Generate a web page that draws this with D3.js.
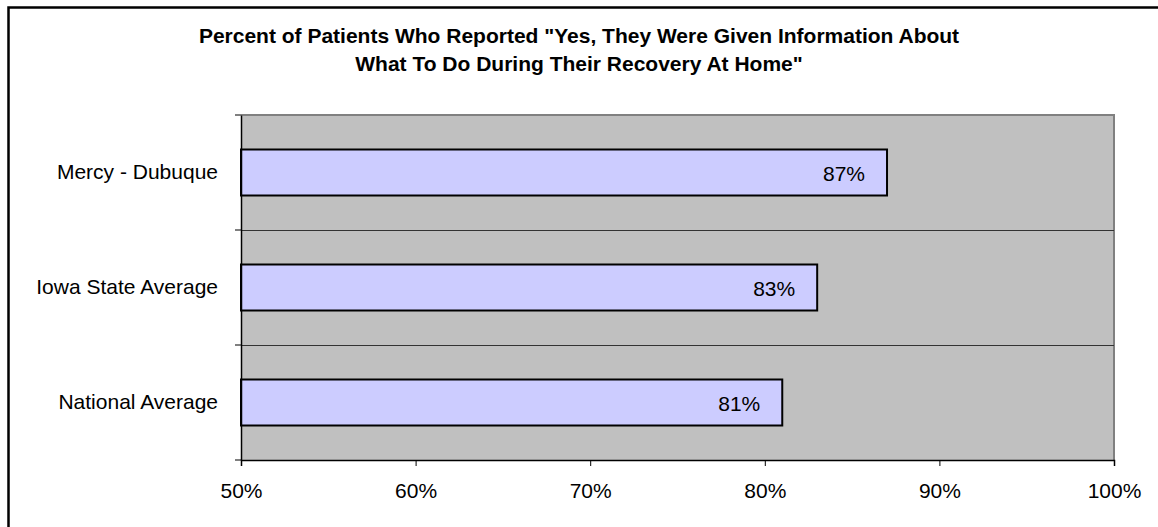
<!DOCTYPE html>
<html>
<head>
<meta charset="utf-8">
<script src="https://cdn.jsdelivr.net/npm/d3@7"></script>
<style>
  body { margin: 0; background: #fff; overflow: hidden; }
  svg { display: block; font-family: Arial, "Liberation Sans", sans-serif; }
</style>
</head>
<body>
<svg id="chart" width="1158" height="527"></svg>
<script>
// chart data
const titleLines = [
  "Percent of Patients Who Reported \"Yes, They Were Given Information About",
  "What To Do During Their Recovery At Home\""
];
const categories = ["Mercy - Dubuque", "Iowa State Average", "National Average"];
const values = [87, 83, 81];
const xTicks = [50, 60, 70, 80, 90, 100];

const svg = d3.select("#chart");
const fontSize = "21px";

// plot box
const plotLeft = 241, plotRight = 1114, plotTop = 115, plotBottom = 460;

const x = d3.scaleLinear().domain([50, 100]).range([plotLeft, plotRight]);
const y = d3.scaleBand().domain(categories).range([plotTop, plotBottom]).paddingInner(0).paddingOuter(0);
const barH = y.bandwidth() / 2.5;

// outer frame, only left and top show (the rest is cut off)
svg.append("path")
  .attr("d", "M8.5,527V7.5H1158")
  .attr("fill", "none")
  .attr("stroke", "#000")
  .attr("stroke-width", 2.5);

// title
svg.selectAll("text.title")
  .data(titleLines)
  .enter().append("text")
  .attr("class", "title")
  .attr("x", 579)
  .attr("y", (d, i) => 43 + i * 28)
  .attr("text-anchor", "middle")
  .attr("font-size", fontSize)
  .attr("font-weight", "bold")
  .attr("fill", "#000")
  .text(d => d);

// plot background
svg.append("rect")
  .attr("x", plotLeft).attr("y", plotTop)
  .attr("width", plotRight - plotLeft).attr("height", plotBottom - plotTop)
  .attr("fill", "#c0c0c0");

// gray plot border top/right
svg.append("path")
  .attr("d", `M${plotLeft},${plotTop}H${plotRight}V${plotBottom}`)
  .attr("fill", "none")
  .attr("stroke", "#808080")
  .attr("stroke-width", 2);

// category separators
svg.selectAll("line.sep")
  .data(categories.slice(1))
  .enter().append("line")
  .attr("class", "sep")
  .attr("x1", plotLeft).attr("x2", plotRight)
  .attr("y1", d => y(d) + 0.5).attr("y2", d => y(d) + 0.5)
  .attr("stroke", "#333")
  .attr("stroke-width", 1);

// bars
svg.selectAll("rect.bar")
  .data(values)
  .enter().append("rect")
  .attr("class", "bar")
  .attr("x", x(50))
  .attr("y", (d, i) => y(categories[i]) + (y.bandwidth() - barH) / 2)
  .attr("width", d => x(d) - x(50))
  .attr("height", barH)
  .attr("fill", "#ccccff")
  .attr("stroke", "#000")
  .attr("stroke-width", 2);

// value labels
svg.selectAll("text.val")
  .data(values)
  .enter().append("text")
  .attr("class", "val")
  .attr("x", d => x(d) - 22)
  .attr("y", (d, i) => y(categories[i]) + y.bandwidth() / 2 + 8)
  .attr("text-anchor", "end")
  .attr("font-size", fontSize)
  .attr("fill", "#000")
  .text(d => d + "%");

// x axis
const xAxis = d3.axisBottom(x)
  .tickValues(xTicks)
  .tickSize(6)
  .tickPadding(17)
  .tickFormat(d => d + "%");
const gx = svg.append("g")
  .attr("transform", `translate(0,${plotBottom})`)
  .call(xAxis);
gx.select(".domain").attr("stroke", "#000").attr("stroke-width", 1.5);
gx.selectAll(".tick line").attr("stroke", "#000");
gx.selectAll(".tick text")
  .attr("font-size", fontSize)
  .attr("font-family", "Arial, 'Liberation Sans', sans-serif")
  .attr("fill", "#000");

// y axis: ticks on band boundaries, labels centred in bands
const yAxis = d3.axisLeft(y).tickSize(0).tickPadding(23);
const gy = svg.append("g")
  .attr("transform", `translate(${plotLeft},0)`)
  .call(yAxis);
gy.select(".domain").attr("stroke", "#000").attr("stroke-width", 1.5);
gy.selectAll(".tick text")
  .attr("font-size", fontSize)
  .attr("font-family", "Arial, 'Liberation Sans', sans-serif")
  .attr("fill", "#000");

const edges = [plotTop].concat(categories.map(c => y(c) + y.bandwidth()));
gy.selectAll("line.edge")
  .data(edges)
  .enter().append("line")
  .attr("class", "edge")
  .attr("x1", -6).attr("x2", 0)
  .attr("y1", d => d).attr("y2", d => d)
  .attr("stroke", "#000");
</script>
</body>
</html>
